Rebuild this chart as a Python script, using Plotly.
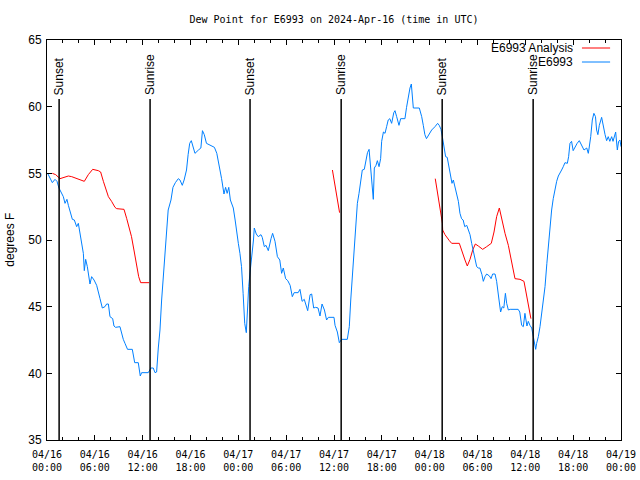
import pandas as pd
import plotly.graph_objects as go

# ---------------- data ----------------
START = "2024-04-16 00:00"

# E6993 observations: hours since START, dew point (F)
obs_hours = [0.08, 0.67, 1.0, 1.25, 1.5, 1.76, 2.05, 2.26, 2.5, 2.68, 2.88, 3.18, 3.43, 3.72, 3.93,
             4.14, 4.35, 4.56, 4.68, 4.85, 5.06, 5.18, 5.39, 5.6, 5.9, 6.23, 6.44, 6.65, 6.94, 7.27,
             7.48, 7.7, 7.9, 8.24, 8.4, 8.6, 9.15, 9.36, 9.57, 9.78, 10.1, 10.7, 10.87, 11.0, 11.45,
             11.7, 11.87, 12.7, 13.04, 13.33, 13.55, 13.75, 13.96, 14.17, 14.38, 14.6, 14.8, 15.0,
             15.2, 15.55, 15.8, 16.1, 16.47, 16.68, 16.97, 17.2, 17.5, 17.7, 17.9, 18.1, 18.35,
             18.56, 19.0, 19.3, 19.5, 19.73, 20.0, 20.45, 21.0, 21.3, 21.5, 21.7, 21.9, 22.2, 22.4,
             22.6, 22.8, 23.0, 23.37, 23.6, 23.8, 24.0, 24.2, 24.4, 24.6, 24.8, 25.0, 25.1, 25.3,
             25.5, 25.7, 25.9, 26.0, 26.25, 26.5, 26.84, 27.0, 27.26, 27.47, 27.76, 28.1, 28.3,
             28.6, 28.9, 29.2, 29.43, 29.64, 29.93, 30.2, 30.5, 30.77, 31.0, 31.5, 31.73, 32.0,
             32.27, 32.7, 33.0, 33.2, 33.45, 33.7, 34.0, 34.24, 34.5, 34.8, 35.07, 35.3, 36.0,
             36.13, 36.42, 36.67, 36.96, 37.67, 37.92, 38.1, 38.3, 38.5, 38.7, 38.93, 39.14, 39.35,
             39.55, 39.8, 40.0, 40.2, 40.4, 40.6, 40.8, 40.93, 41.06, 41.27, 41.44, 41.65, 41.85,
             41.98, 42.2, 42.4, 42.6, 42.8, 43.0, 43.23, 43.5, 43.65, 43.86, 44.15, 44.36, 44.9,
             45.1, 45.3, 45.53, 45.7, 45.87, 45.95, 46.7, 47.0, 47.2, 47.4, 47.6, 47.96, 48.25,
             48.67, 49.0, 49.2, 49.42, 49.59, 49.8, 50.0, 50.2, 50.4, 50.63, 50.8, 50.97, 51.18,
             51.4, 51.6, 51.8, 52.0, 52.2, 52.4, 52.65, 52.85, 53.06, 53.27, 53.5, 53.7, 53.9,
             54.1, 54.3, 54.56, 54.73, 54.94, 55.15, 55.5, 55.7, 55.9, 56.2, 56.4, 56.53, 56.7,
             56.9, 57.1, 57.3, 57.5, 57.66, 57.87, 58.1, 59.1, 59.3, 59.54, 59.75, 59.95, 60.2,
             60.37, 60.58, 60.8, 61.0, 61.13, 61.3, 61.42, 61.63, 61.84, 62.05, 62.26, 62.47,
             62.7, 62.9, 63.1, 63.3, 63.5, 63.72, 63.93, 64.14, 64.35, 64.55, 64.76, 64.97, 65.27,
             65.43, 65.6, 65.8, 66.0, 66.2, 66.5, 66.77, 66.94, 67.2, 67.36, 67.7, 67.9, 68.0,
             68.2, 68.4, 68.6, 68.8, 68.94, 69.1, 69.28, 69.57, 69.78, 70.0, 70.2, 70.4, 70.6,
             70.83, 71.0, 71.33, 71.54, 71.7, 71.87, 72.0]
obs_values = [55.0, 54.3, 54.55, 54.4, 53.9, 53.55, 53.25, 52.75, 53.05, 52.6, 52.25, 51.55, 51.5, 51.0,
              51.25, 50.5, 49.75, 49.0, 47.7, 48.55, 48.0, 47.55, 46.7, 47.25, 47.0, 46.6, 46.0, 45.6,
              44.9, 45.0, 45.2, 45.2, 44.25, 44.1, 43.55, 43.45, 43.5, 43.0, 42.55, 42.25, 41.8, 41.8,
              41.1, 40.8, 40.8, 39.8, 40.05, 40.05, 40.4, 40.4, 40.05, 40.1, 41.9, 43.25, 45.5, 47.5,
              48.5, 50.75, 52.25, 53.0, 53.95, 54.3, 54.6, 54.5, 54.1, 54.5, 55.25, 56.4, 57.25, 57.45,
              57.0, 56.5, 56.75, 56.9, 58.2, 57.9, 57.25, 57.1, 56.95, 56.5, 55.9, 55.25, 54.6, 53.45,
              53.95, 53.5, 53.95, 53.0, 52.4, 51.5, 50.5, 49.75, 49.0, 48.0, 46.0, 43.75, 43.05, 44.5,
              46.5, 47.75, 48.75, 50.0, 50.9, 50.45, 50.25, 50.4, 50.2, 49.5, 49.6, 49.2, 50.1, 50.5,
              49.9, 48.75, 48.5, 47.5, 47.9, 47.1, 46.95, 46.6, 45.75, 46.05, 46.05, 46.3, 45.4, 45.55,
              44.7, 45.9, 45.95, 44.9, 44.95, 44.9, 44.3, 45.2, 44.75, 44.0, 44.2, 44.2, 43.6, 43.1,
              42.3, 42.55, 42.55, 43.5, 45.5, 47.25, 49.75, 51.5, 52.75, 53.5, 54.5, 55.25, 55.3, 56.0,
              56.55, 56.8, 55.25, 53.9, 53.05, 55.4, 55.6, 55.95, 55.5, 56.1, 57.4, 58.1, 58.0, 58.5,
              59.0, 59.1, 58.75, 59.55, 59.7, 59.25, 58.6, 59.1, 59.1, 59.95, 60.75, 61.4, 61.7, 60.75,
              59.9, 59.9, 59.25, 58.6, 57.9, 57.6, 58.0, 58.25, 58.5, 58.75, 58.6, 58.3, 57.75, 57.1,
              56.25, 56.2, 55.5, 54.8, 54.25, 54.5, 54.0, 53.5, 52.9, 52.0, 51.6, 51.5, 51.0, 51.1,
              50.75, 50.4, 49.75, 49.1, 48.4, 48.0, 47.9, 47.9, 47.4, 46.9, 47.25, 47.45, 47.3, 47.1,
              47.45, 47.45, 46.9, 46.1, 45.5, 44.6, 45.0, 44.9, 46.0, 45.25, 44.75, 44.8, 44.8, 44.6,
              43.6, 43.5, 44.5, 43.55, 43.9, 43.6, 43.4, 42.75, 42.2, 41.8, 42.25, 42.75, 43.5, 44.5,
              45.5, 46.5, 48.25, 49.75, 51.0, 52.25, 53.1, 53.9, 54.4, 54.8, 55.1, 55.25, 55.5, 55.8,
              55.75, 56.25, 57.25, 57.4, 56.7, 56.95, 57.25, 57.45, 57.25, 56.9, 56.75, 56.9, 56.5,
              56.9, 57.75, 59.0, 59.5, 59.25, 58.25, 57.9, 58.6, 59.2, 58.5, 57.9, 57.45, 57.75, 57.4,
              57.75, 57.4, 58.1, 56.75, 57.4, 57.5, 57.0]

# E6993 Analysis: hours since START, dew point (F); None marks a gap
ana_hours = [0.67, 1.09, 1.63, 2.05, 2.68, 3.1, 3.72, 4.35, 4.68, 5.18, 5.73, 6.44, 6.73, 7.07, 7.4,
             7.7, 8.1, 8.53, 8.74, 9.66, 10.0, 10.28, 10.6, 10.95, 11.25, 11.5, 11.75, 12.2, 12.8,
             None,
             35.8, 36.25, 36.7,
             None,
             48.7, 49.1, 49.38, 49.6, 49.63, 49.92, 50.47, 50.76, 51.72, 52.05, 52.43, 52.72, 53.06,
             53.4, 53.73, 54.1, 54.65, 55.15, 55.73, 56.07, 56.4, 56.74, 57.03, 57.45, 57.87, 58.28,
             58.7, 59.33, 59.83, 60.08, 60.37, 60.7]
ana_values = [55.0, 54.9, 54.6, 54.7, 54.8, 54.75, 54.6, 54.5, 54.4, 54.9, 55.3, 55.2, 55.1, 54.4, 53.7,
              53.25, 52.9, 52.45, 52.35, 52.3, 51.6, 51.0, 50.25, 49.1, 48.0, 47.25, 46.8, 46.8, 46.8,
              None,
              55.25, 53.6, 52.05,
              None,
              54.6, 53.1, 52.0, 51.25, 50.75, 50.4, 49.95, 49.75, 49.75, 49.1, 48.5, 48.05, 48.55,
              49.25, 49.7, 49.55, 49.3, 49.5, 49.75, 50.6, 51.75, 52.4, 51.5, 50.5, 49.6, 48.25,
              47.1, 47.05, 46.9, 46.1, 45.25, 44.1]

# Sunset / sunrise markers: hours since START
sun_hours = [1.52, 12.93, 25.47, 36.9, 49.57, 60.98]
sun_labels = ["Sunset", "Sunrise", "Sunset", "Sunrise", "Sunset", "Sunrise"]

tick_hours = [0, 6, 12, 18, 24, 30, 36, 42, 48, 54, 60, 66, 72]
tick_text = ["04/16<br>00:00", "04/16<br>06:00", "04/16<br>12:00", "04/16<br>18:00",
             "04/17<br>00:00", "04/17<br>06:00", "04/17<br>12:00", "04/17<br>18:00",
             "04/18<br>00:00", "04/18<br>06:00", "04/18<br>12:00", "04/18<br>18:00",
             "04/19<br>00:00"]
y_ticks = [35, 40, 45, 50, 55, 60, 65]

# ---------------- build ----------------
base = pd.Timestamp(START)


def to_time(h):
    return None if h is None else base + pd.Timedelta(hours=h)


obs_t = [to_time(h) for h in obs_hours]
ana_t = [to_time(h) for h in ana_hours]
sun_t = [to_time(h) for h in sun_hours]
tick_t = [to_time(h) for h in tick_hours]

RED = "#ff0000"
BLUE = "#0080ff"
SANS = "Liberation Sans, Arial, sans-serif"
MONO = "DejaVu Sans Mono, monospace"

fig = go.Figure()
fig.add_trace(go.Scatter(x=ana_t, y=ana_values, mode="lines", name="E6993 Analysis",
                         line=dict(color=RED, width=1), connectgaps=False, showlegend=False))
fig.add_trace(go.Scatter(x=obs_t, y=obs_values, mode="lines", name="E6993",
                         line=dict(color=BLUE, width=1), showlegend=False))

shapes = []
annotations = []
for t, lab in zip(sun_t, sun_labels):
    shapes.append(dict(type="line", xref="x", yref="y", x0=t, x1=t, y0=35, y1=60.57,
                       line=dict(color="black", width=1.5)))
    annotations.append(dict(x=t, y=61.0, xref="x", yref="y", text=lab, textangle=-90,
                            showarrow=False, xanchor="center", yanchor="bottom", yshift=-4,
                            font=dict(family=SANS, size=12, color="black")))

# manual gnuplot-style key (text left, sample right)
for i, (name, col) in enumerate([("E6993 Analysis", RED), ("E6993", BLUE)]):
    ypos = 0.98 - i * 0.035
    annotations.append(dict(x=0.92, y=ypos, xref="paper", yref="paper", text=name,
                            showarrow=False, xanchor="right", yanchor="middle",
                            font=dict(family=SANS, size=12, color="black")))
    shapes.append(dict(type="line", xref="paper", yref="paper", x0=0.932, x1=0.981,
                       y0=ypos, y1=ypos, line=dict(color=col, width=1)))

annotations.append(dict(x=-0.065, y=0.5, xref="paper", yref="paper", text="degrees F",
                        textangle=-90, showarrow=False, xanchor="center", yanchor="middle",
                        font=dict(family=SANS, size=12, color="black")))

fig.update_layout(
    width=640, height=480,
    margin=dict(l=47, r=19, t=40, b=40, autoexpand=False),
    paper_bgcolor="white", plot_bgcolor="white",
    title=dict(text="Dew Point for E6993 on 2024-Apr-16 (time in UTC)", x=0.5, xref="paper",
               xanchor="center", y=0.96, yanchor="middle", yref="container",
               font=dict(family=MONO, size=10, color="black")),
    shapes=shapes, annotations=annotations, showlegend=False,
)
fig.update_xaxes(range=[tick_t[0], tick_t[-1]], tickvals=tick_t, ticktext=tick_text,
                 showgrid=False, zeroline=False, showline=True, linecolor="black", linewidth=1,
                 mirror="ticks", ticks="inside", ticklen=5, tickcolor="black",
                 ticklabelstandoff=5, automargin=False,
                 tickfont=dict(family=MONO, size=10, color="black"),
                 minor=dict(dtick=2 * 3600 * 1000, ticks="inside", ticklen=3, tickcolor="black",
                            showgrid=False))
fig.update_yaxes(range=[35, 65], tickvals=y_ticks, showgrid=False, zeroline=False, showline=True,
                 linecolor="black", linewidth=1, mirror="ticks", ticks="inside", ticklen=5,
                 ticklabelstandoff=2, automargin=False,
                 tickcolor="black", tickfont=dict(family=SANS, size=12, color="black"))

fig.write_html("out.html", config={"displayModeBar": False},
               post_script="document.body.style.margin='0px';")
